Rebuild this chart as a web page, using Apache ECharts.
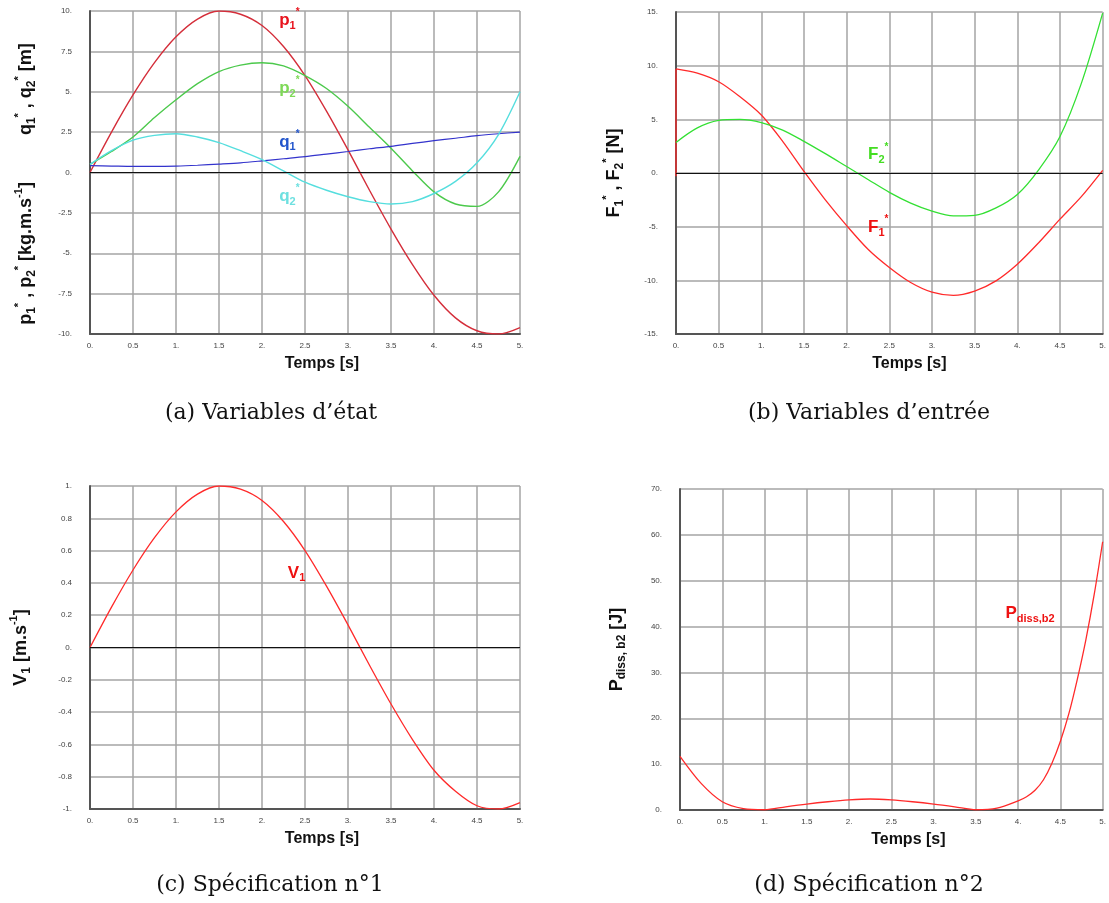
<!DOCTYPE html>
<html><head><meta charset="utf-8">
<script src="https://cdn.jsdelivr.net/npm/echarts@6/dist/echarts.min.js"></script>
<style>html,body{margin:0;padding:0;background:#fff}#c{width:1109px;height:903px}</style>
</head><body><div id="c"></div>
<script>
// ---- data ----
const tQ = [0,0.25,0.5,0.75,1,1.25,1.5,1.75,2,2.25,2.5,2.75,3,3.25,3.5,3.75,4,4.25,4.5,4.75,5];
// panel (a)
const p1 = [0,2.5,4.8,6.8,8.4,9.5,10.0,9.8,9.1,7.8,6.0,3.8,1.4,-1.1,-3.5,-5.7,-7.6,-9.0,-9.8,-10.0,-9.6];
const p2 = [0.5,1.3,2.2,3.4,4.5,5.5,6.25,6.65,6.8,6.6,6.0,5.2,4.1,2.8,1.5,0.1,-1.2,-1.95,-2.1,-1.2,1.0];
const q1 = [0.42,0.4,0.38,0.38,0.4,0.45,0.52,0.6,0.72,0.85,0.98,1.14,1.3,1.47,1.62,1.8,1.97,2.12,2.28,2.4,2.5];
const q2 = [0.5,1.35,2.0,2.3,2.4,2.2,1.85,1.35,0.8,0.1,-0.6,-1.1,-1.5,-1.8,-1.95,-1.8,-1.3,-0.55,0.6,2.35,5.0];
// panel (b)
const tJump = [0,0];
const F1jump = [-0.3,9.7];
const F1 = [9.7,9.3,8.5,7.1,5.4,2.95,0.15,-2.5,-4.9,-7.1,-8.8,-10.2,-11.1,-11.4,-11.0,-10.05,-8.5,-6.5,-4.3,-2.2,0.25];
const F2 = [2.85,4.2,4.9,5.0,4.7,4.0,2.95,1.8,0.6,-0.6,-1.8,-2.8,-3.55,-4.0,-3.95,-3.25,-2.0,0.3,3.4,8.35,14.9];
// panel (c)
const V1 = [0,0.25,0.48,0.68,0.84,0.95,1.0,0.98,0.91,0.78,0.6,0.38,0.14,-0.11,-0.35,-0.57,-0.76,-0.89,-0.98,-1.0,-0.96];
// panel (d)
const tP = [0,0.25,0.5,0.75,1,1.25,1.5,1.75,2,2.25,2.5,2.75,3,3.25,3.5,3.75,4,4.1,4.2,4.3,4.4,4.5,4.6,4.7,4.8,4.9,5];
const Pd = [11.7,5.8,1.8,0.3,0.05,0.7,1.3,1.8,2.2,2.4,2.2,1.8,1.3,0.7,0.05,0.4,2.0,2.9,4.3,6.6,10.2,15,21,28.5,37,47,58.5];

const captions = ['(a) Variables d’état','(b) Variables d’entrée','(c) Spécification n°1','(d) Spécification n°2'];

// ---- helpers ----
const zip = (xs, ys) => xs.map((x, i) => [x, ys[i]]);
function fmt(v){ const r = Math.round(v*100)/100; let s = String(r === 0 ? 0 : r); if (Number.isInteger(r)) s += '.'; return s; }
function rich(color, big, sub, sup){
  return {
    b:{fontSize:big,fontWeight:'bold',fontFamily:'Liberation Sans',color:color},
    s:{fontSize:sub,fontWeight:'bold',fontFamily:'Liberation Sans',color:color,padding:[10,0,0,0]},
    u:{fontSize:sup,fontWeight:'bold',fontFamily:'Liberation Sans',color:color,padding:[0,0,16,0]},
    gap:{width:47},
    end:{width:23}
  };
}
const grids = [
  {left:90, top:11, width:430, height:323},
  {left:676, top:12, width:431, height:322},
  {left:90, top:486, width:430, height:323},
  {left:680, top:489, width:429, height:321}
];
const nameShift = [34, 40, 34, 34];
const xAxes = grids.map((g,i)=>({
  gridIndex:i, type:'value', min:0, max:5, interval:0.5,
  axisLine:{show:true,onZero:false,lineStyle:{color:'#555',width:2}},
  axisTick:{show:false},
  splitLine:{show:true,lineStyle:{color:'#a4a4a4',width:1.5}},
  axisLabel:{fontSize:8,color:'#444',margin:8,fontFamily:'Liberation Sans',formatter:fmt},
  name:'Temps [s]', nameLocation:'middle', nameGap:22,
  nameTextStyle:{fontSize:16,fontWeight:'bold',color:'#111',fontFamily:'Liberation Sans',padding:[0,0,0,nameShift[i]]}
}));
const yRanges = [[-10,10,2.5],[-15,15,5],[-1,1,0.2],[0,70,10]];
const yNames = [
  '{b|p}{s|1}{u|*}{b| , p}{s|2}{u|*}{b| [kg.m.s}{u|-1}{b|]}{gap|}{b|q}{s|1}{u|*}{b| , q}{s|2}{u|*}{b| [m]}{end|}',
  '{b|F}{s|1}{u|*}{b| , F}{s|2}{u|*}{b| [N]}',
  '{b|V}{s|1}{b| [m.s}{u|-1}{b|]}',
  '{b|P}{s|diss, b2}{b| [J]}'
];
const yGaps = [50, 48, 55, 52];
const yAxes = grids.map((g,i)=>({
  gridIndex:i, type:'value', min:yRanges[i][0], max:yRanges[i][1], interval:yRanges[i][2],
  axisLine:{show:true,onZero:false,lineStyle:{color:'#555',width:2}},
  axisTick:{show:false},
  splitLine:{show:true,lineStyle:{color:'#a4a4a4',width:1.5}},
  axisLabel:{fontSize:8,color:'#444',margin:18,fontFamily:'Liberation Sans',formatter:fmt},
  name:yNames[i], nameLocation:'middle', nameRotate:90, nameGap:yGaps[i],
  nameTextStyle:{color:'#111',rich:rich('#111',18,12,11)}
}));
const zeroLine = {silent:true,symbol:'none',label:{show:false},lineStyle:{color:'#111',width:1.2,type:'solid'},data:[{yAxis:0}]};
function tag(coord, text, color){
  return {silent:true,symbol:'circle',symbolSize:0,animation:false,
    data:[{coord:coord, label:{show:true,position:'right',distance:0,formatter:text,rich:rich(color,17,11,10)}}]};
}
function line(name, data, xi, color, w, extra){
  return Object.assign({type:'line', name:name, xAxisIndex:xi, yAxisIndex:xi, data:data, showSymbol:false, symbol:'none',
    smooth:0.3, lineStyle:{color:color,width:w}, itemStyle:{color:color}, z:3}, extra||{});
}
const series = [
  line('p1', zip(tQ,p1), 0, '#d42e3a', 1.4, {markLine:zeroLine, markPoint:tag([2.2,9.4],'{b|p}{s|1}{u|*}','#e8141e')}),
  line('p2', zip(tQ,p2), 0, '#4cc94c', 1.4, {markPoint:tag([2.2,5.2],'{b|p}{s|2}{u|*}','#7ed957')}),
  line('q1', zip(tQ,q1), 0, '#3333cc', 1.2, {markPoint:tag([2.2,1.9],'{b|q}{s|1}{u|*}','#2255cc')}),
  line('q2', zip(tQ,q2), 0, '#55dede', 1.4, {markPoint:tag([2.2,-1.5],'{b|q}{s|2}{u|*}','#6ee0e0')}),
  line('F1jump', zip(tJump,F1jump), 1, '#ff2a2a', 1.3, {smooth:false}),
  line('F1', zip(tQ,F1), 1, '#ff2a2a', 1.3, {markLine:zeroLine, markPoint:tag([2.25,-5.1],'{b|F}{s|1}{u|*}','#ee1111')}),
  line('F2', zip(tQ,F2), 1, '#33e033', 1.3, {markPoint:tag([2.25,1.7],'{b|F}{s|2}{u|*}','#44dd22')}),
  line('V1', zip(tQ,V1), 2, '#ff2a2a', 1.3, {markLine:zeroLine, markPoint:tag([2.3,0.46],'{b|V}{s|1}','#ee1111')}),
  line('Pd', zip(tP,Pd), 3, '#ff2a2a', 1.3, {markPoint:tag([3.85,42.8],'{b|P}{s|diss,b2}','#ee1111')})
];
const capPos = [[271,413],[869,413],[270,885],[869,885]];
const graphic = captions.map((c,i)=>({type:'text', x:capPos[i][0], y:capPos[i][1],
  style:{text:c, x:0, y:0, align:'center', verticalAlign:'middle', font:'22px "DejaVu Serif"', fill:'#111'}}));
const chart = echarts.init(document.getElementById('c'), null, {renderer:'canvas'});
chart.setOption({animation:false, backgroundColor:'#fff', grid:grids, xAxis:xAxes, yAxis:yAxes, series:series, graphic:graphic});
</script></body></html>
